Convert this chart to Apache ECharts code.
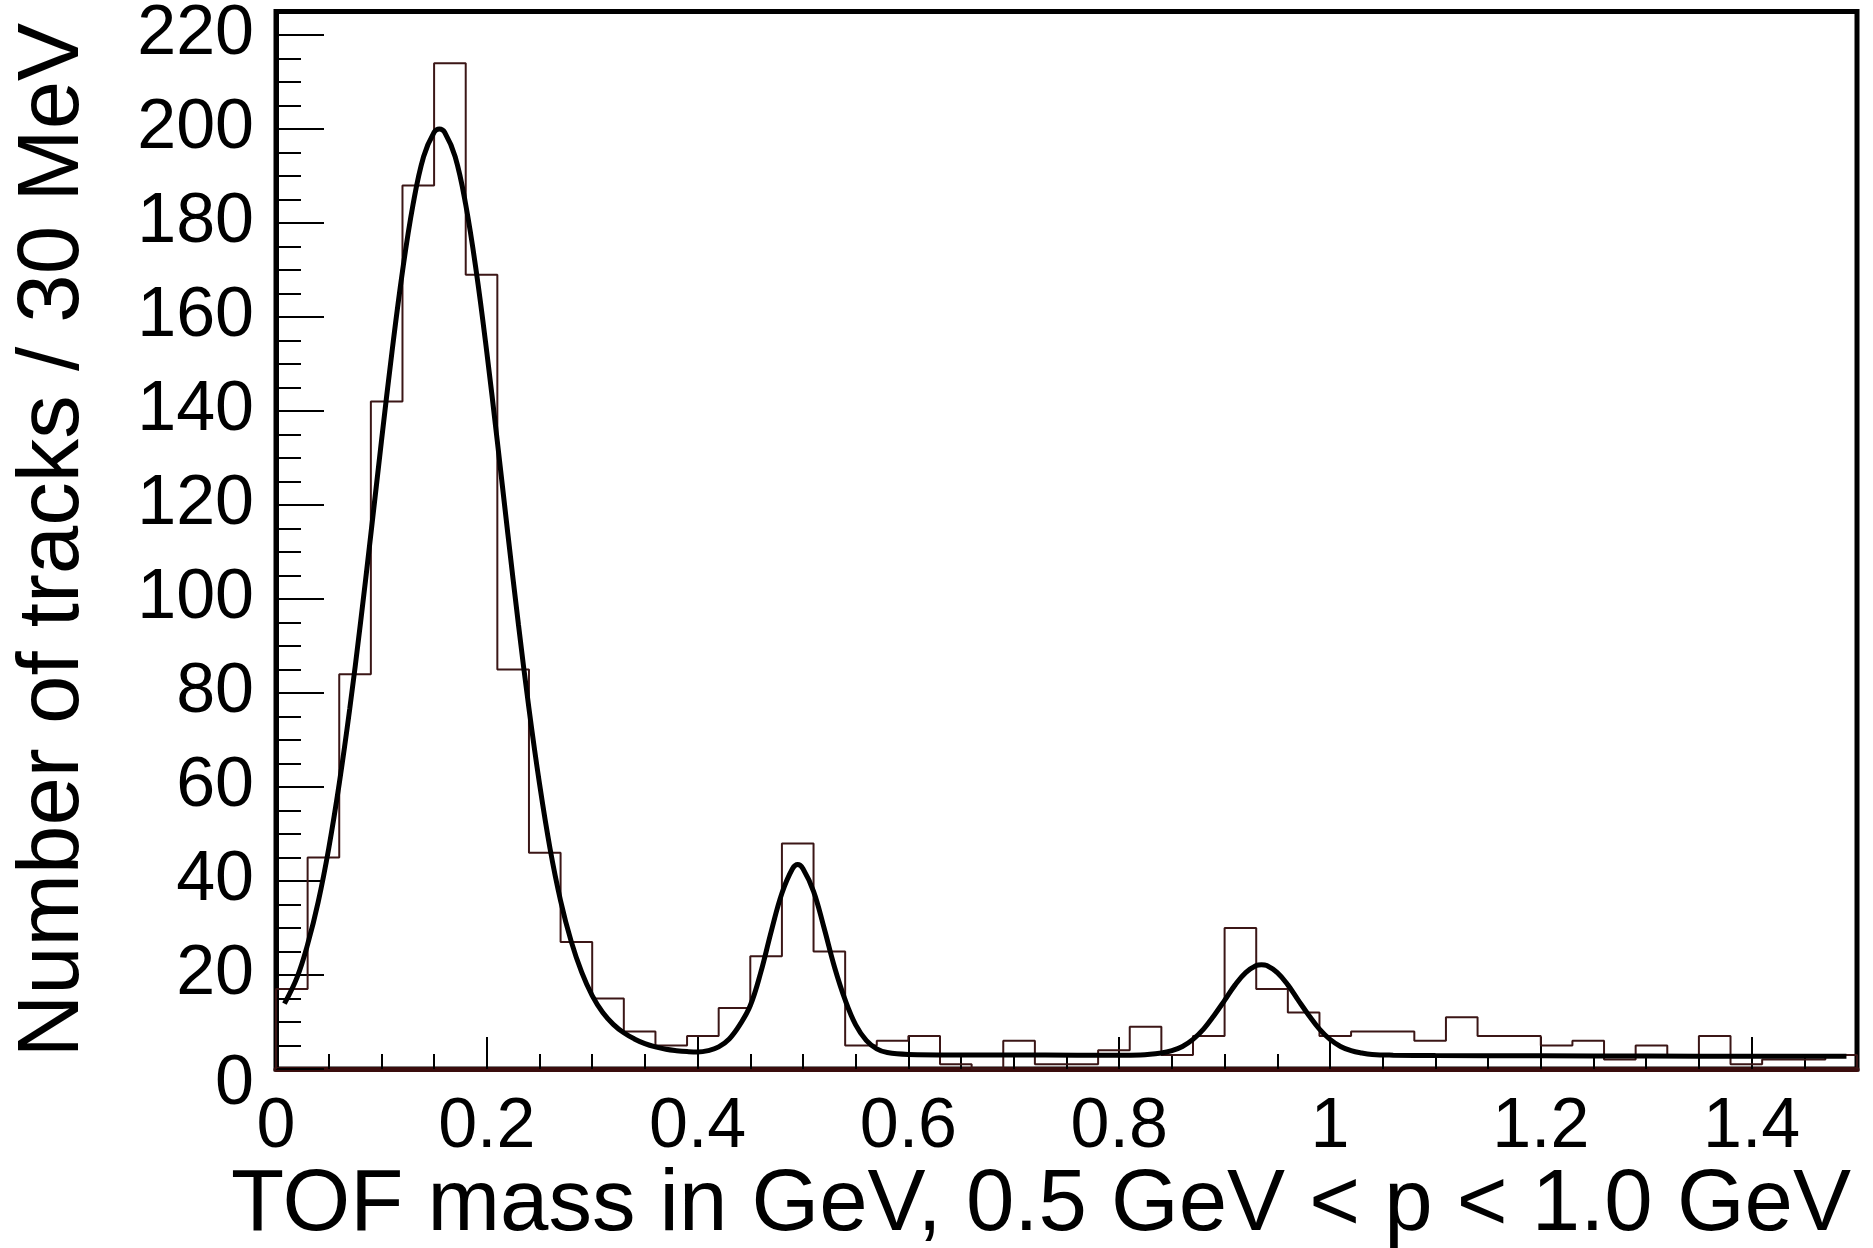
<!DOCTYPE html>
<html>
<head>
<meta charset="utf-8">
<script src="https://cdn.jsdelivr.net/npm/echarts@6/dist/echarts.min.js"></script>
<style>
html,body{margin:0;padding:0;background:#ffffff;}
#chart{width:1873px;height:1248px;}
</style>
</head>
<body>
<div id="chart"></div>
<script>
// Histogram: TOF mass, 30 MeV bins from 0 to 1.5 GeV
const binWidth = 0.03;
const counts = [17,45,84,142,188,214,169,85,46,27,
                15,8,5,7,13,24,48,25,5,6,
                7,1,0,6,1,1,4,9,3,7,
                30,17,12,7,8,8,6,11,7,7,
                5,6,2,5,3,7,1,2,2,3];

// Fit curve
const fitX = [0.008,0.02,0.03,0.04,0.05,0.06,0.07,0.08,0.09,0.10,
              0.11,0.12,0.13,0.14,0.15,0.155,0.16,0.17,0.18,0.19,0.20,
              0.21,0.22,0.23,0.24,0.25,0.26,0.27,0.28,0.29,0.30,
              0.31,0.32,0.33,0.34,0.35,0.36,0.37,0.38,0.39,0.40,
              0.41,0.42,0.43,0.44,0.45,0.46,0.47,0.48,0.49,0.495,0.50,
              0.51,0.52,0.53,0.54,0.55,0.56,0.57,0.58,0.60,0.64,
              0.70,0.76,0.80,0.82,0.84,0.85,0.86,0.87,0.88,0.89,
              0.90,0.91,0.92,0.93,0.935,0.94,0.95,0.96,0.97,0.98,0.99,
              1.00,1.01,1.02,1.03,1.04,1.06,1.10,1.20,1.30,1.40,1.49];
const fitY = [13.9,19.5,26.5,35.5,46.9,60.7,76.7,94.6,113.8,133.5,
              152.5,169.7,183.9,194.1,199.3,200.0,199.3,194.1,183.9,169.7,152.5,
              133.5,113.8,94.6,76.7,60.7,46.9,35.8,27.2,20.6,15.6,
              12.0,9.5,7.7,6.4,5.4,4.7,4.2,3.9,3.7,3.6,
              3.9,4.7,6.4,9.4,13.5,20.6,29.4,37.4,42.6,43.5,42.6,
              37.8,30.0,21.6,14.7,9.4,6.1,4.3,3.5,3.1,3.0,
              3.0,2.95,2.95,3.0,3.4,3.9,4.8,6.3,8.5,11.4,
              14.6,17.9,20.5,22.0,22.2,22.0,20.5,17.9,14.6,11.4,8.5,
              6.3,4.8,3.9,3.4,3.1,2.95,2.85,2.8,2.75,2.7,2.7];

const xTitle = 'TOF mass in GeV, 0.5 GeV < p < 1.0 GeV';
const yTitle = 'Number of tracks / 30 MeV';

// Build step outline from the bin counts
const histData = [[0, 0]];
counts.forEach(function (c, i) { histData.push([+(i * binWidth).toFixed(4), c]); });
const xEnd = +(counts.length * binWidth).toFixed(4);
histData.push([xEnd, counts[counts.length - 1]]);
histData.push([xEnd, 0]);

const fitData = fitX.map(function (x, i) { return [x, fitY[i]]; });

const FONT = 'Liberation Sans, Arial, Helvetica, sans-serif';

const chart = echarts.init(document.getElementById('chart'), null, {renderer: 'canvas'});
chart.setOption({
  animation: false,
  backgroundColor: '#ffffff',
  title: {
    text: xTitle,
    right: 22,
    top: 1163,
    padding: 0,
    textStyle: {fontSize: 87, fontWeight: 'normal', color: '#000', fontFamily: FONT}
  },
  grid: {
    left: 276, top: 10, width: 1581, height: 1059,
    show: true, borderColor: '#000', borderWidth: 5, backgroundColor: 'transparent'
  },
  xAxis: [
    {
      type: 'value', min: 0, max: 1.5, interval: 0.2, position: 'bottom',
      axisLine: {show: true, onZero: false, lineStyle: {color: '#3a0d0d', width: 5}},
      axisTick: {show: true, inside: true, length: 32, lineStyle: {color: '#000', width: 2}},
      axisLabel: {show: true, margin: 24, fontSize: 70, color: '#000', fontFamily: FONT, showMaxLabel: false},
      splitLine: {show: false}
    },
    {
      type: 'value', min: 0, max: 1.5, interval: 0.05, position: 'bottom',
      axisLine: {show: false, onZero: false},
      axisTick: {show: true, inside: true, length: 15, lineStyle: {color: '#000', width: 2}},
      axisLabel: {show: false},
      splitLine: {show: false}
    }
  ],
  yAxis: [
    {
      type: 'value', min: 0, max: 225, interval: 20, position: 'left',
      axisLine: {show: true, lineStyle: {color: '#000', width: 5}},
      axisTick: {show: true, inside: true, length: 48, lineStyle: {color: '#000', width: 2}},
      axisLabel: {
        show: true, margin: 22, fontSize: 70, color: '#000', fontFamily: FONT, showMaxLabel: false,
        formatter: function (v) { return v === 0 ? '{z|0}' : String(v); },
        rich: {z: {fontSize: 70, color: '#000', fontFamily: FONT, padding: [32, 0, 0, 0]}}
      },
      splitLine: {show: false},
      name: yTitle,
      nameLocation: 'middle',
      nameGap: 178,
      nameTextStyle: {fontSize: 87, color: '#000', fontFamily: FONT}
    },
    {
      type: 'value', min: 0, max: 225, interval: 5, position: 'left',
      axisLine: {show: false},
      axisTick: {show: true, inside: true, length: 25, lineStyle: {color: '#000', width: 2}},
      axisLabel: {show: false},
      splitLine: {show: false}
    }
  ],
  series: [
    {
      type: 'line', xAxisIndex: 0, yAxisIndex: 0,
      step: 'end', data: histData, symbol: 'none',
      lineStyle: {color: '#3b1616', width: 2},
      z: 2
    },
    {
      type: 'line', xAxisIndex: 0, yAxisIndex: 0,
      data: fitData, smooth: 0.4, symbol: 'none',
      lineStyle: {color: '#000', width: 5},
      z: 3
    }
  ]
});
</script>
</body>
</html>
